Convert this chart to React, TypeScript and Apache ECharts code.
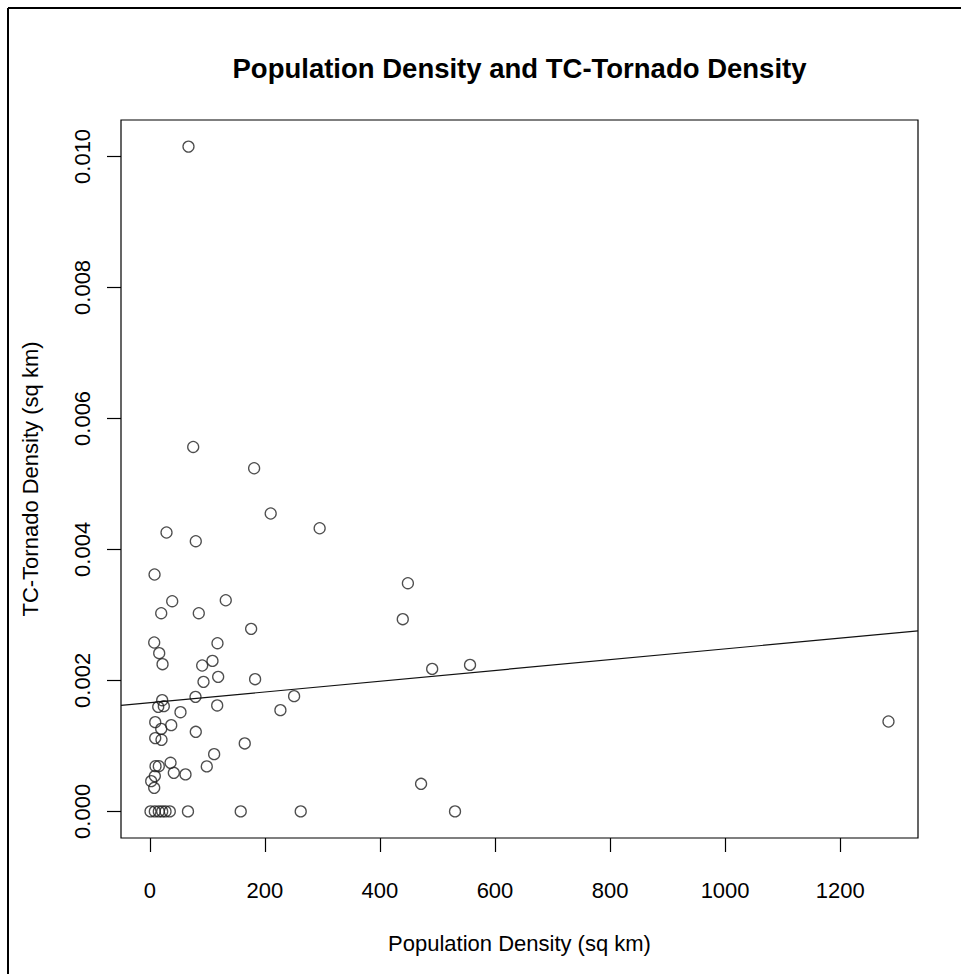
import React, { useEffect, useRef } from "react";
import * as echarts from "echarts";

// Population density (sq km) for each point
const popDensity = [
  67.2, 75.4, 181.3, 210.1, 295.2, 29.0, 79.9, 8.2, 448.6, 38.9,
  132.0, 19.8, 85.1, 439.7, 176.1, 7.6, 117.6, 16.3, 22.1, 91.0,
  108.9, 118.8, 93.3, 183.0, 250.8, 79.4, 21.5, 14.6, 24.3, 117.1,
  53.3, 227.0, 490.8, 556.6, 1284.0, 9.4, 37.2, 19.8, 79.9, 9.4,
  20.3, 165.0, 111.8, 9.9, 15.6, 36.0, 41.7, 62.0, 99.0, 8.7,
  2.4, 7.6, 471.5, 1.2, 8.7, 15.6, 21.5, 27.3, 34.7, 66.3,
  158.0, 262.3, 530.5,
];
// TC-tornado density (sq km) for each point
const tcDensity = [
  0.01015, 0.005564, 0.005239, 0.004548, 0.004323, 0.004258, 0.004125, 0.003617, 0.003484, 0.003209,
  0.003224, 0.003026, 0.003026, 0.002935, 0.002787, 0.002579, 0.002568, 0.002416, 0.002248, 0.002228,
  0.002298, 0.002054, 0.001978, 0.002019, 0.00176, 0.001749, 0.001698, 0.001596, 0.001607, 0.001618,
  0.001515, 0.001546, 0.002176, 0.002237, 0.001373, 0.001363, 0.001317, 0.00126, 0.001215, 0.001119,
  0.001093, 0.001038, 0.000874, 0.000691, 0.000691, 0.000742, 0.000589, 0.000565, 0.000687, 0.000539,
  0.000462, 0.00036, 0.000421, 0, 0, 0, 0, 0, 0, 0,
  0, 0, 0,
];
// Fitted regression line (abline)
const fitIntercept = 0.001659;
const fitSlope = 8.22e-7;

const xTicks = [0, 200, 400, 600, 800, 1000, 1200];
const yTicks = [0, 0.002, 0.004, 0.006, 0.008, 0.01];

const titleText = "Population Density and TC-Tornado Density";
const xTitle = "Population Density (sq km)";
const yTitle = "TC-Tornado Density (sq km)";

const FONT = "'Liberation Sans', Arial, sans-serif";

export default function App() {
  const ref = useRef<HTMLDivElement>(null);
  useEffect(() => {
    if (!ref.current) return;
    document.body.style.overflow = "hidden";
    const chart = echarts.init(ref.current, undefined, { renderer: "svg" });
    const pad = (lo: number, hi: number) => [lo - 0.04 * (hi - lo), hi + 0.04 * (hi - lo)];
    const [xMin, xMax] = pad(Math.min(...popDensity), Math.max(...popDensity));
    const [yMin, yMax] = pad(Math.min(...tcDensity), Math.max(...tcDensity));
    const pts = popDensity.map((x, i) => [x, tcDensity[i]]);
    const fit = [xMin, xMax].map((x) => [x, fitIntercept + fitSlope * x]);
    const axisText = { color: "#000", fontSize: 22, fontFamily: FONT };
    chart.setOption({
      animation: false,
      backgroundColor: "#fff",
      grid: {
        left: 121,
        top: 120,
        right: 43,
        bottom: 136,
        show: true,
        borderColor: "#000",
        borderWidth: 1.2,
        backgroundColor: "transparent",
      },
      graphic: [
        { type: "line", shape: { x1: 8, y1: 8, x2: 961, y2: 8 }, style: { stroke: "#000", lineWidth: 2 } },
        { type: "line", shape: { x1: 8, y1: 8, x2: 8, y2: 974 }, style: { stroke: "#000", lineWidth: 2 } },
        {
          type: "text",
          x: 519.5,
          y: 68,
          style: {
            text: titleText,
            fontSize: 27.5,
            fontWeight: "bold",
            fontFamily: FONT,
            fill: "#000",
            align: "center",
            verticalAlign: "middle",
          },
        },
      ],
      xAxis: {
        type: "value",
        min: xMin,
        max: xMax,
        name: xTitle,
        nameLocation: "middle",
        nameGap: 94,
        nameTextStyle: axisText,
        axisLine: { show: false, onZero: false },
        splitLine: { show: false },
        axisTick: { show: true, length: 14, inside: false, customValues: xTicks, lineStyle: { color: "#000", width: 1.2 } },
        axisLabel: { ...axisText, margin: 41, customValues: xTicks, formatter: (v: number) => String(v) },
      },
      yAxis: {
        type: "value",
        min: yMin,
        max: yMax,
        name: yTitle,
        nameLocation: "middle",
        nameGap: 80,
        nameRotate: 90,
        nameTextStyle: axisText,
        axisLine: { show: false, onZero: false },
        splitLine: { show: false },
        axisTick: { show: true, length: 14, inside: false, customValues: yTicks, lineStyle: { color: "#000", width: 1.2 } },
        axisLabel: { ...axisText, margin: 28, rotate: 90, customValues: yTicks, formatter: (v: number) => v.toFixed(3) },
      },
      series: [
        {
          type: "scatter",
          data: pts,
          symbol: "circle",
          symbolSize: 11,
          itemStyle: { color: "transparent", borderColor: "#222", borderWidth: 1.3 },
          silent: true,
        },
        {
          type: "line",
          data: fit,
          symbol: "none",
          lineStyle: { color: "#111", width: 1.2 },
          silent: true,
        },
      ],
    });
    return () => chart.dispose();
  }, []);
  return <div ref={ref} style={{ position: "absolute", left: 0, top: 0, width: 961, height: 974 }} />;
}
